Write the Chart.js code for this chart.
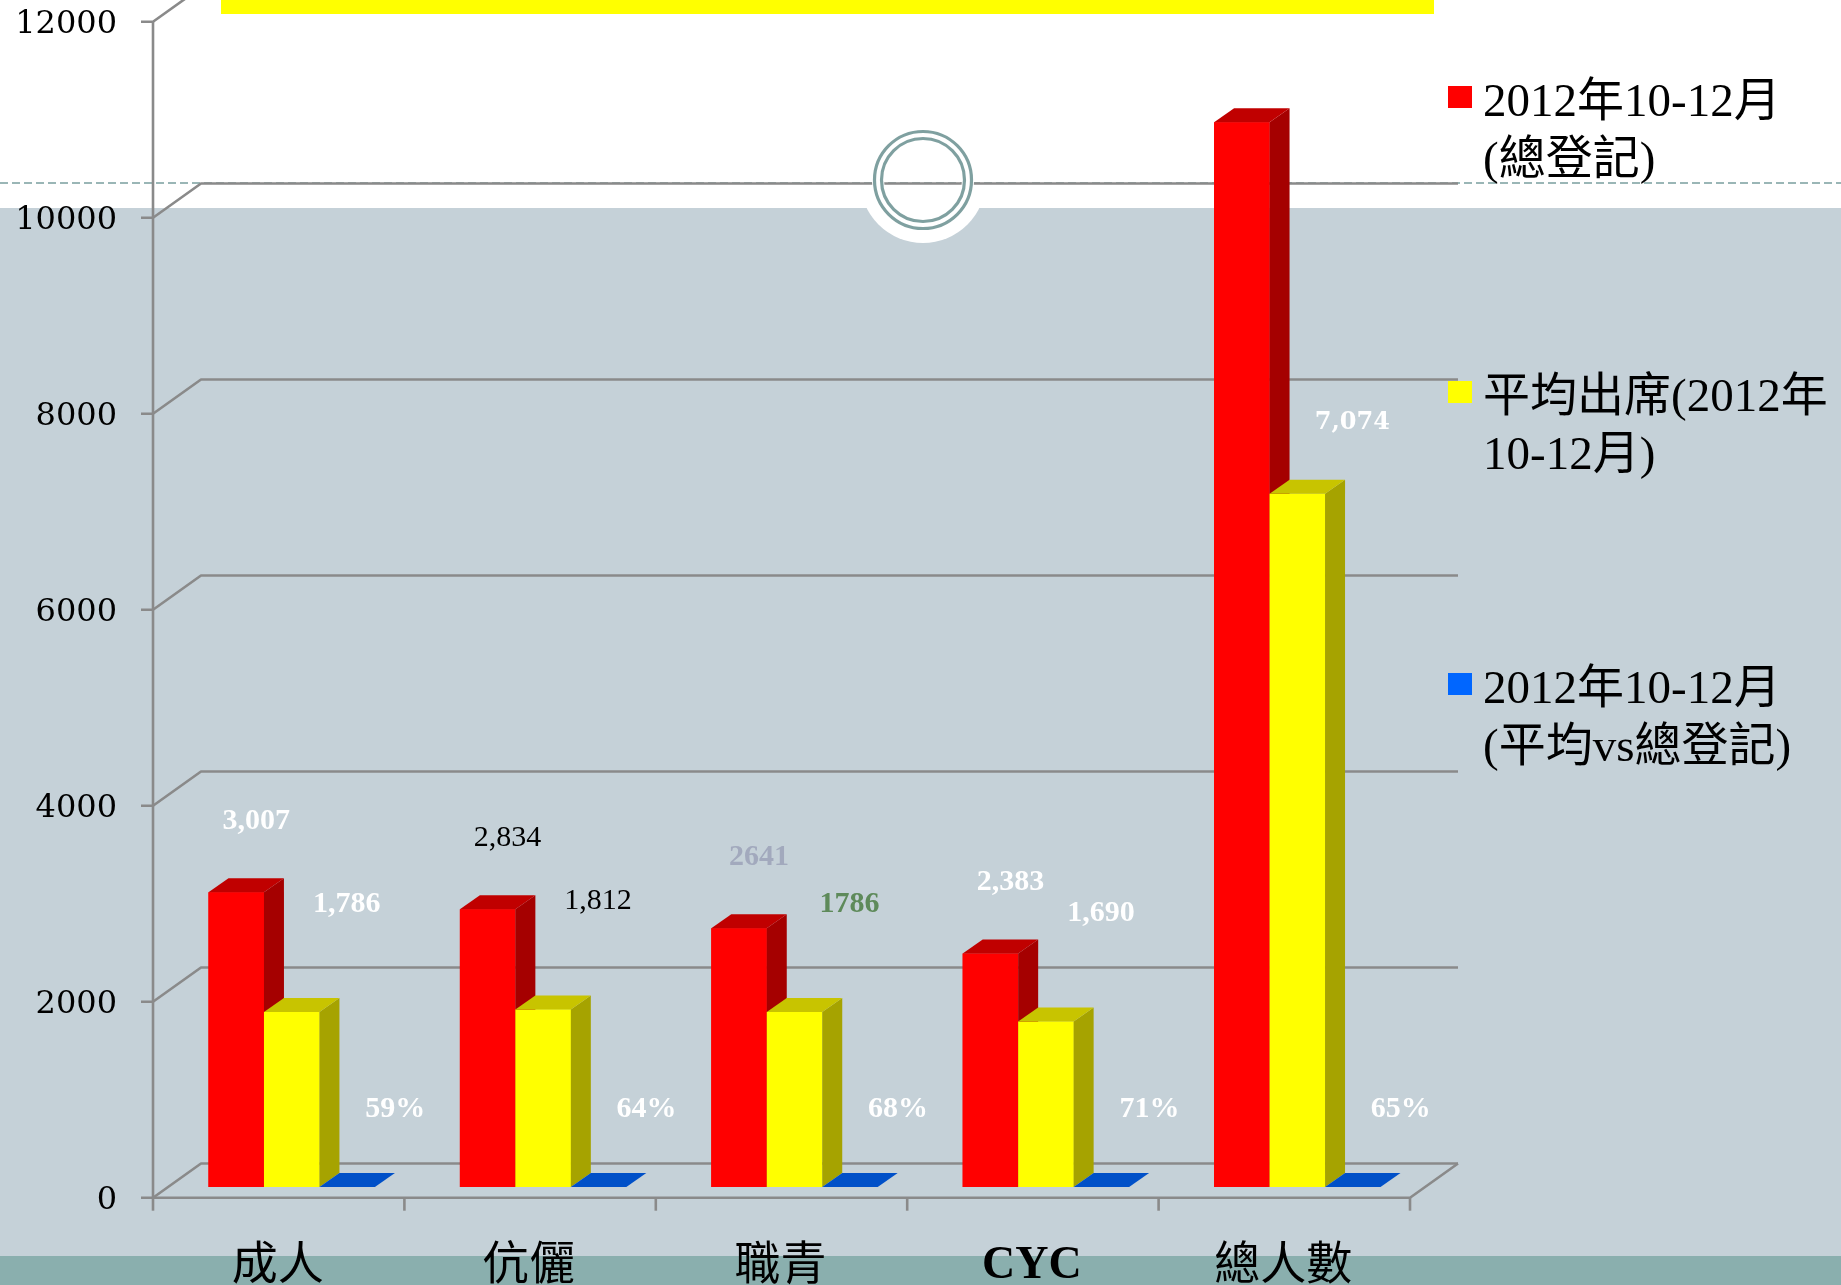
<!DOCTYPE html>
<html><head><meta charset="utf-8">
<script src="https://cdn.jsdelivr.net/npm/chart.js@4.4.1/dist/chart.umd.min.js"></script>
<style>html,body{margin:0;padding:0;background:#fff;overflow:hidden}#wrap{position:relative;width:1841px;height:1285px}</style>
</head><body><div id="wrap"><canvas id="c" width="1841" height="1285"></canvas></div>
<script>
// ---- data ----
const categories = ['成人', '伉儷', '職青', 'CYC', '總人數'];
const seriesNames = ['2012年10-12月\n(總登記)', '平均出席(2012年\n10-12月)', '2012年10-12月\n(平均vs總登記)'];
const registered = [3007, 2834, 2641, 2383, 10865];
const attendance = [1786, 1812, 1786, 1690, 7074];
const ratio = [0.59, 0.64, 0.68, 0.71, 0.65];
const yTicks = [0, 2000, 4000, 6000, 8000, 10000, 12000];
const useComma = [true, true, false, true, true];

// ---- styles ----
const frontColors = ['#FF0000', '#FFFF00', '#0066FF'];
const sideColors = ['#A50000', '#A6A300', '#0040A0'];
const topColors = ['#C00000', '#C8C400', '#0050C8'];
const labelColors = [
  ['#FFFFFF', '#000000', '#A2A9BD', '#FFFFFF', '#FFFFFF'],
  ['#FFFFFF', '#000000', '#5E8A5A', '#FFFFFF', '#FFFFFF'],
  ['#FFFFFF', '#FFFFFF', '#FFFFFF', '#FFFFFF', '#FFFFFF']
];
const labelBold = [
  [true, false, true, true, true],
  [true, false, true, true, true],
  [true, true, true, true, true]
];
const labelFont = [
  ['L', 'L', 'L', 'L', 'L'],
  ['L', 'L', 'L', 'L', 'D'],
  ['L', 'L', 'L', 'L', 'L']
];
const labelNudgeY = [[0,0,0,0,0],[0,0,0,0,37],[0,0,0,0,0]];
const DX = 20, DY = -14;          // bar depth
const F = {dx: -13, dy: 10.7};    // front plane offset
const B = {dx: 35, dy: -23.5};    // back wall offset
const serif = '"Liberation Serif", "Noto Sans CJK TC", serif';

function poly(ctx, pts, color) {
  ctx.fillStyle = color;
  ctx.beginPath();
  ctx.moveTo(pts[0][0], pts[0][1]);
  for (let k = 1; k < pts.length; k++) ctx.lineTo(pts[k][0], pts[k][1]);
  ctx.closePath(); ctx.fill();
}

const threeD = {
  id: 'threeD',
  beforeDraw(chart) {
    const ctx = chart.ctx, W = chart.width, H = chart.height;
    ctx.save();
    ctx.fillStyle = '#FFFFFF'; ctx.fillRect(0, 0, W, H);
    ctx.fillStyle = '#C5D1D8'; ctx.fillRect(0, 208, W, H - 208);
    ctx.fillStyle = '#8AAFAE'; ctx.fillRect(0, 1256, W, H - 1256);
    ctx.fillStyle = '#FFFF00'; ctx.fillRect(221, 0, 1213, 14);
    ctx.fillStyle = '#FFFFFF';
    ctx.beginPath(); ctx.arc(923, 180, 63, 0, Math.PI * 2); ctx.fill();
    ctx.strokeStyle = '#7A9E9E'; ctx.lineWidth = 1.6; ctx.setLineDash([8, 4]);
    ctx.beginPath(); ctx.moveTo(0, 183); ctx.lineTo(W, 183); ctx.stroke();
    ctx.restore();
  },
  beforeDatasetsDraw(chart) {
    const ctx = chart.ctx, ys = chart.scales.y, xs = chart.scales.x, ca = chart.chartArea;
    const base = ys.getPixelForValue(0);
    ctx.save();
    ctx.strokeStyle = '#8A8A8A'; ctx.lineWidth = 2.6; ctx.lineJoin = 'round';
    yTicks.forEach(v => {
      const y = ys.getPixelForValue(v);
      ctx.beginPath();
      ctx.moveTo(ca.left + F.dx - 12, y + F.dy);
      ctx.lineTo(ca.left + F.dx, y + F.dy);
      ctx.lineTo(ca.left + B.dx, y + B.dy);
      ctx.lineTo(ca.right + B.dx, y + B.dy);
      ctx.stroke();
    });
    ctx.beginPath();
    ctx.moveTo(ca.left + F.dx, ys.getPixelForValue(yTicks[yTicks.length - 1]) + F.dy);
    ctx.lineTo(ca.left + F.dx, base + F.dy);
    ctx.lineTo(ca.right + F.dx, base + F.dy);
    ctx.lineTo(ca.right + B.dx, base + B.dy);
    ctx.stroke();
    for (let i = 0; i <= categories.length; i++) {
      const x = xs.getPixelForValue(i - 0.5) + F.dx;
      ctx.beginPath(); ctx.moveTo(x, base + F.dy); ctx.lineTo(x, base + F.dy + 13); ctx.stroke();
    }
    // ornament rings
    ctx.strokeStyle = '#FFFFFF'; ctx.lineWidth = 12;
    ctx.beginPath(); ctx.arc(923, 180, 45, 0, Math.PI * 2); ctx.stroke();
    ctx.strokeStyle = '#7FA0A0'; ctx.lineWidth = 3.2;
    ctx.beginPath(); ctx.arc(923, 180, 48.5, 0, Math.PI * 2); ctx.stroke();
    ctx.beginPath(); ctx.arc(923, 180, 41.5, 0, Math.PI * 2); ctx.stroke();
    ctx.restore();
  },
  afterDatasetsDraw(chart) {
    const ctx = chart.ctx;
    const metas = chart.data.datasets.map((d, di) => chart.getDatasetMeta(di));
    ctx.save();
    // 3D boxes, category by category, series in legend order
    categories.forEach((c, i) => {
      metas.forEach((meta, di) => {
        const p = meta.data[i].getProps(['x', 'y', 'base', 'width'], true);
        const l = p.x - p.width / 2, r = p.x + p.width / 2;
        poly(ctx, [[l, p.y], [r, p.y], [r, p.base], [l, p.base]], frontColors[di]);
        poly(ctx, [[r, p.y], [r + DX, p.y + DY], [r + DX, p.base + DY], [r, p.base]], sideColors[di]);
        poly(ctx, [[l, p.y], [l + DX, p.y + DY], [r + DX, p.y + DY], [r, p.y]], topColors[di]);
      });
    });
    // data labels
    ctx.textAlign = 'center'; ctx.textBaseline = 'middle';
    chart.data.datasets.forEach((ds, di) => {
      metas[di].data.forEach((el, i) => {
        const p = el.getProps(['x', 'y', 'base'], true);
        const v = ds.data[i];
        let txt, lx, ly;
        if (di === 2) {
          txt = Math.round(v * 100) + '%';
          lx = p.x + 48; ly = p.base - 78;
        } else if (di === 0) {
          txt = useComma[i] ? v.toLocaleString('en-US') : String(v);
          lx = p.x + 20; ly = p.y - 71;
        } else {
          txt = useComma[i] ? v.toLocaleString('en-US') : String(v);
          lx = p.x + 55; ly = p.y - 108;
        }
        ly += labelNudgeY[di][i];
        const w = labelBold[di][i] ? 'bold ' : '';
        ctx.font = labelFont[di][i] === 'D' ? w + '24px "DejaVu Serif", serif' : w + '30px "Liberation Serif", serif';
        ctx.fillStyle = labelColors[di][i];
        ctx.fillText(txt, lx, ly);
      });
    });
    ctx.restore();
  },
  afterDraw(chart) {
    const ctx = chart.ctx;
    const baselines = [116, 411, 703];
    ctx.save();
    ctx.font = '47px ' + serif;
    ctx.textAlign = 'left'; ctx.textBaseline = 'alphabetic';
    chart.data.datasets.forEach((ds, di) => {
      const b = baselines[di];
      ctx.fillStyle = ds.backgroundColor;
      ctx.fillRect(1448, b - 30, 24, 22);
      ctx.fillStyle = '#000000';
      ds.label.split('\n').forEach((line, li) => ctx.fillText(line, 1483, b + li * 58));
    });
    ctx.restore();
  }
};

new Chart(document.getElementById('c'), {
  type: 'bar',
  data: {
    labels: categories,
    datasets: [
      {label: seriesNames[0], data: registered, backgroundColor: frontColors[0]},
      {label: seriesNames[1], data: attendance, backgroundColor: frontColors[1]},
      {label: seriesNames[2], data: ratio, backgroundColor: frontColors[2]}
    ]
  },
  options: {
    responsive: false, animation: false, devicePixelRatio: 1,
    datasets: {bar: {categoryPercentage: 0.662, barPercentage: 1.0, borderWidth: 0}},
    layout: {padding: {top: 11, right: 418, left: 0, bottom: 0}},
    plugins: {legend: {display: false}, tooltip: {enabled: false}},
    scales: {
      x: {
        grid: {display: false}, border: {display: false},
        ticks: {
          color: '#000', padding: 44, labelOffset: -14, maxRotation: 0, autoSkip: false,
          font: (c) => ({family: serif, size: 46, weight: /^[A-Za-z]+$/.test(categories[c.index] || '') ? 'bold' : 'normal'})
        },
        afterFit: (s) => { s.height = 98; s.paddingLeft = 0; s.paddingRight = 0; }
      },
      y: {
        min: yTicks[0], max: yTicks[yTicks.length - 1],
        grid: {display: false, drawTicks: false}, border: {display: false},
        ticks: {stepSize: yTicks[1] - yTicks[0], color: '#000', padding: 49, labelOffset: 14,
          callback: (v) => String(v),
          font: {family: '"DejaVu Serif", serif', size: 32}},
        afterFit: (s) => { s.width = 166; s.paddingTop = 0; s.paddingBottom = 0; }
      }
    }
  },
  plugins: [threeD]
});
</script></body></html>
